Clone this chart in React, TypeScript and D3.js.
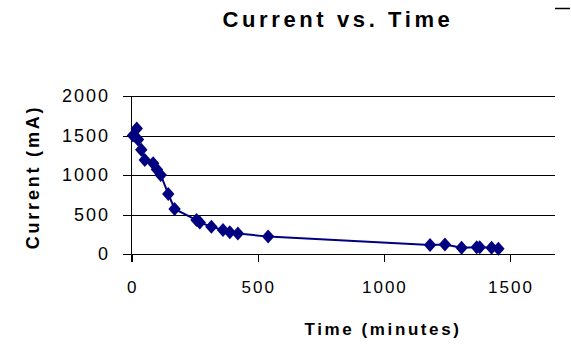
import React from "react";
import * as d3 from "d3";

const times = [5, 20, 25, 38, 52, 85, 100, 115, 145, 170, 257, 270, 316, 362, 389, 421, 541, 1183, 1242, 1308, 1368, 1380, 1427, 1454];
const current = [1500, 1590, 1450, 1320, 1190, 1150, 1070, 1000, 760, 570, 430, 400, 345, 305, 275, 260, 220, 115, 120, 80, 85, 85, 80, 65];
const xTicks = [0, 500, 1000, 1500];
const yTicks = [0, 500, 1000, 1500, 2000];

export default function App() {
  const W = 571, H = 357;
  const x = d3.scaleLinear().domain([0, 1500]).range([131.7, 510]);
  const y = d3.scaleLinear().domain([0, 2000]).range([254, 96]);
  const plotRight = 555;
  const pts = times.map((t, i) => [x(t), y(current[i])] as [number, number]);
  const line = d3.line()(pts) || "";
  const diamond = "M0,-7L6.2,0L0,7L-6.2,0Z";
  const font = "'Liberation Sans', Arial, sans-serif";
  return (
    <svg width={W} height={H} style={{ position: "absolute", left: 0, top: 0, background: "#fff" }}>
      <rect width={W} height={H} fill="#fff" />
      <text x={338} y={27} textAnchor="middle" fontFamily={font} fontWeight="bold" fontSize={22} letterSpacing={3.6} fill="#000">Current vs. Time</text>
      <line x1={555} x2={570} y1={8.5} y2={8.5} stroke="#000" strokeWidth={1.5} />
      {yTicks.map(v => (
        <g key={v}>
          <line x1={123} x2={plotRight} y1={Math.round(y(v)) + 0.5} y2={Math.round(y(v)) + 0.5} stroke="#000" strokeWidth={1} />
          <text x={110} y={y(v) + 6} textAnchor="end" fontFamily={font} fontSize={18} letterSpacing={2} fill="#000">{v}</text>
        </g>
      ))}
      <line x1={131.5} x2={131.5} y1={96} y2={262} stroke="#000" strokeWidth={1} />
      {xTicks.map(v => (
        <g key={v}>
          <line x1={Math.round(x(v)) + 0.5} x2={Math.round(x(v)) + 0.5} y1={254} y2={262} stroke="#000" strokeWidth={1} />
          <text x={x(v) + 1} y={293} textAnchor="middle" fontFamily={font} fontSize={17} letterSpacing={2} fill="#000">{v}</text>
        </g>
      ))}
      <text x={383} y={335} textAnchor="middle" fontFamily={font} fontWeight="bold" fontSize={17} letterSpacing={2.6} fill="#000">Time (minutes)</text>
      <text transform="translate(39,177) rotate(-90)" textAnchor="middle" fontFamily={font} fontWeight="bold" fontSize={18} letterSpacing={2.8} fill="#000">Current (mA)</text>
      <path d={line} fill="none" stroke="#000080" strokeWidth={2} />
      {pts.map((p, i) => (
        <path key={i} d={diamond} transform={`translate(${p[0]},${p[1]})`} fill="#000080" />
      ))}
    </svg>
  );
}
